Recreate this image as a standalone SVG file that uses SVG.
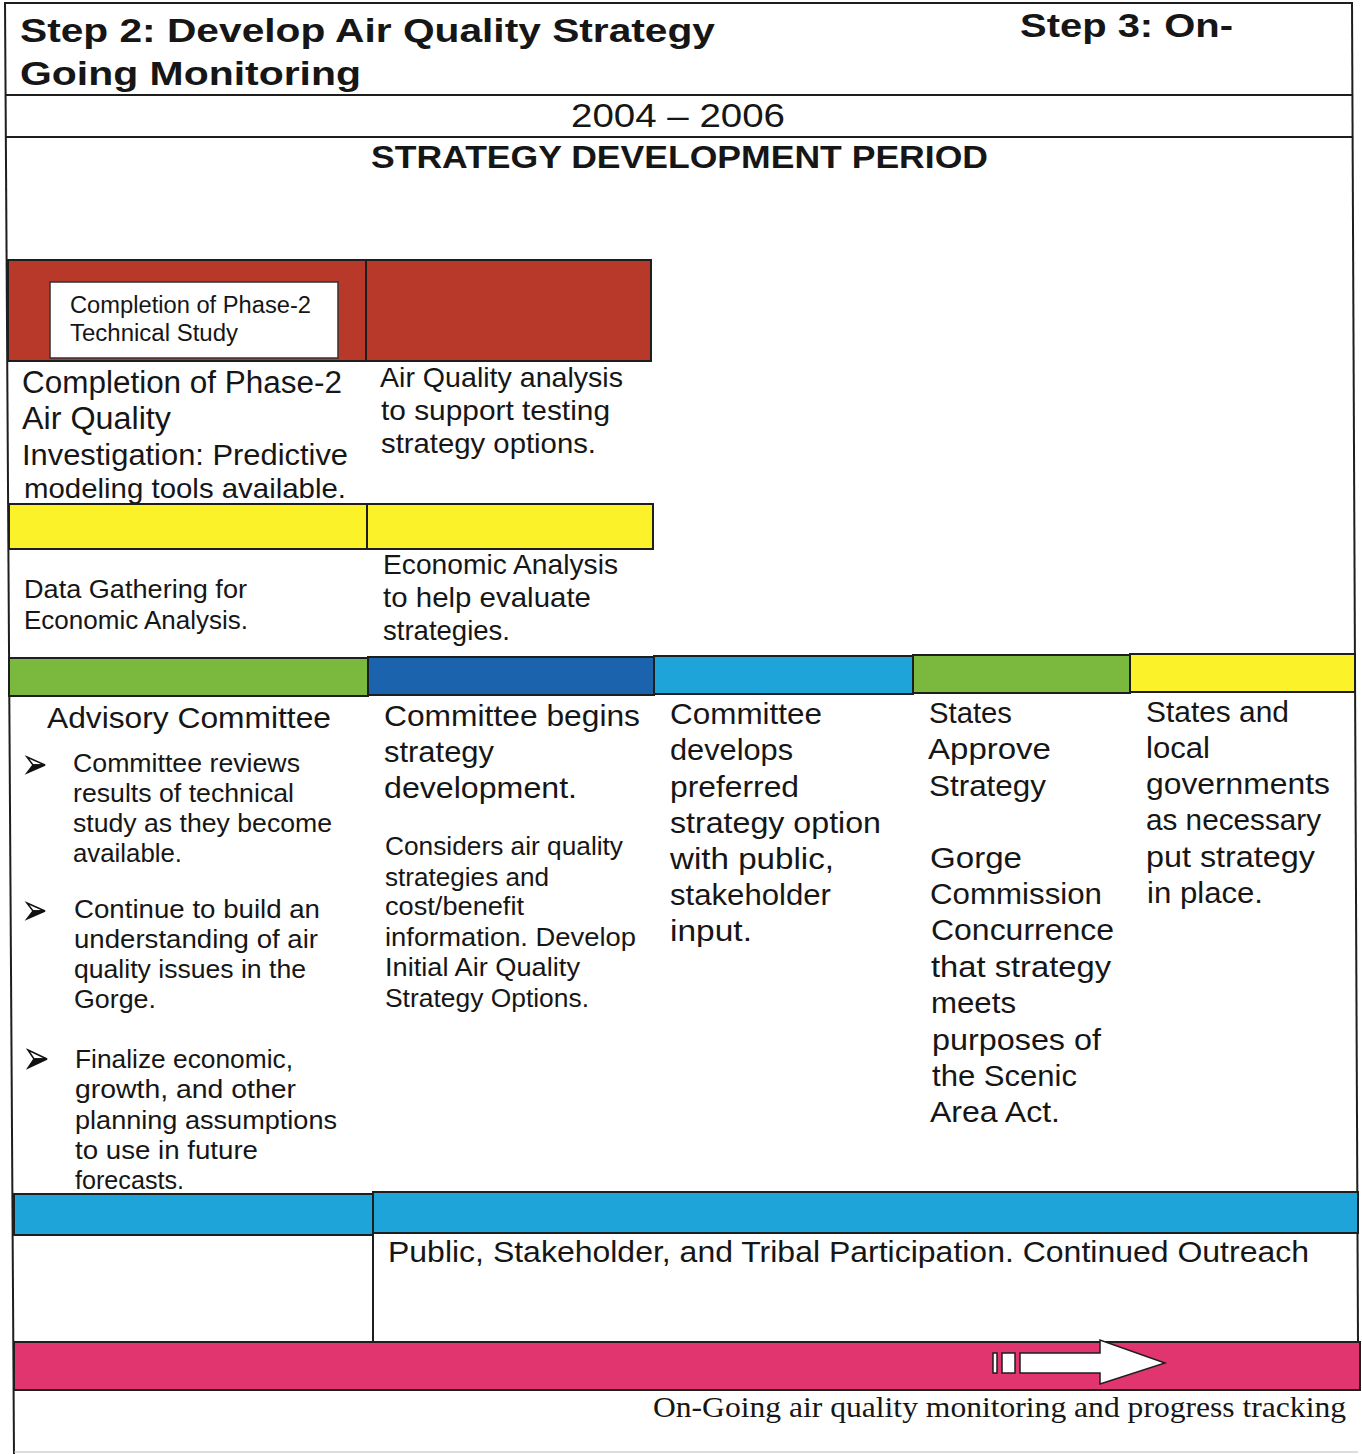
<svg xmlns="http://www.w3.org/2000/svg" width="1362" height="1454" viewBox="0 0 1362 1454">
<style>
.t{font-family:"Liberation Sans",Arial,sans-serif;fill:#161616}
.b{font-weight:bold}
.s{font-family:"Liberation Serif","Times New Roman",serif;fill:#161616}
.ln{stroke:#1e1e1e;stroke-width:2;fill:none}
.bar{stroke:#1e1e1e;stroke-width:2}
.red{fill:#b8392a}
.yel{fill:#fbf22a}
.grn{fill:#7bb93e}
.dblu{fill:#1b63ad}
.lblu{fill:#1ea4d9}
.pnk{fill:#e0356f}
</style>
<rect width="1362" height="1454" fill="#ffffff"/>

<g id="frame">
<line class="ln" x1="5" y1="3" x2="1352" y2="3"/>
<line class="ln" x1="5" y1="95" x2="1352" y2="95"/>
<line class="ln" x1="5" y1="137" x2="1352" y2="137"/>
<line class="ln" x1="5" y1="2" x2="14" y2="1454"/>
<line class="ln" x1="1352" y1="2" x2="1358" y2="1343"/>
<line x1="14" y1="1452" x2="1358" y2="1452" stroke="#bbbbbb" stroke-width="1"/>
</g>

<g id="header">
<text class="t b" x="20" y="42" font-size="33" textLength="695" lengthAdjust="spacingAndGlyphs">Step 2: Develop Air Quality Strategy</text>
<text class="t b" x="1020" y="37" font-size="33" textLength="213" lengthAdjust="spacingAndGlyphs">Step 3: On-</text>
<text class="t b" x="20" y="85" font-size="33" textLength="341" lengthAdjust="spacingAndGlyphs">Going Monitoring</text>
<text class="t" x="571" y="127" font-size="34" textLength="214" lengthAdjust="spacingAndGlyphs">2004 – 2006</text>
<text class="t b" x="371" y="168" font-size="32" textLength="617" lengthAdjust="spacingAndGlyphs">STRATEGY DEVELOPMENT PERIOD</text>
</g>

<g id="technical-study">
<rect class="bar red" x="8" y="260" width="643" height="101"/>
<line class="ln" x1="366" y1="260" x2="366" y2="361"/>
<rect x="50" y="282" width="288" height="76" fill="#ffffff" stroke="#333" stroke-width="1.5"/>
<text class="t" x="70" y="313" font-size="23" textLength="241" lengthAdjust="spacingAndGlyphs">Completion of Phase-2</text>
<text class="t" x="70" y="341" font-size="23" textLength="168" lengthAdjust="spacingAndGlyphs">Technical Study</text>
</g>

<g id="phase2-investigation">
<text class="t" x="22" y="393" font-size="31" textLength="320" lengthAdjust="spacingAndGlyphs">Completion of Phase-2</text>
<text class="t" x="22" y="429" font-size="31" textLength="149" lengthAdjust="spacingAndGlyphs">Air Quality</text>
<text class="t" x="22" y="465" font-size="29" textLength="326" lengthAdjust="spacingAndGlyphs">Investigation: Predictive</text>
<text class="t" x="24" y="498" font-size="28" textLength="322" lengthAdjust="spacingAndGlyphs">modeling tools available.</text>
</g>

<g id="aq-analysis">
<text class="t" x="380" y="387" font-size="28" textLength="243" lengthAdjust="spacingAndGlyphs">Air Quality analysis</text>
<text class="t" x="381" y="420" font-size="28" textLength="229" lengthAdjust="spacingAndGlyphs">to support testing</text>
<text class="t" x="381" y="453" font-size="28" textLength="215" lengthAdjust="spacingAndGlyphs">strategy options.</text>
</g>

<g id="economic-bar">
<rect class="bar yel" x="9" y="504" width="644" height="45"/>
<line class="ln" x1="367" y1="504" x2="367" y2="549"/>
</g>

<g id="data-gathering">
<text class="t" x="24" y="598" font-size="25" textLength="223" lengthAdjust="spacingAndGlyphs">Data Gathering for</text>
<text class="t" x="24" y="629" font-size="25" textLength="224" lengthAdjust="spacingAndGlyphs">Economic Analysis.</text>
</g>

<g id="economic-analysis">
<text class="t" x="383" y="574" font-size="28" textLength="235" lengthAdjust="spacingAndGlyphs">Economic Analysis</text>
<text class="t" x="383" y="607" font-size="28" textLength="208" lengthAdjust="spacingAndGlyphs">to help evaluate</text>
<text class="t" x="383" y="640" font-size="28" textLength="127" lengthAdjust="spacingAndGlyphs">strategies.</text>
</g>

<g id="committee-bar">
<rect class="bar grn" x="9" y="658" width="359" height="38"/>
<rect class="bar dblu" x="368" y="657" width="286" height="38"/>
<rect class="bar lblu" x="654" y="656" width="259" height="38"/>
<rect class="bar grn" x="913" y="655" width="217" height="38"/>
<rect class="bar yel" x="1130" y="654" width="225" height="38"/>
</g>

<g id="advisory-committee">
<text class="t" x="47" y="728" font-size="29" textLength="284" lengthAdjust="spacingAndGlyphs">Advisory Committee</text>
<path d="M27,757 L45,765 L33,765 Z" fill="#fff" stroke="#111" stroke-width="1.5"/>
<path d="M33,765 L45,765 L27,773 Z" fill="#111" stroke="#111" stroke-width="1.5"/>
<text class="t" x="73" y="772" font-size="25" textLength="227" lengthAdjust="spacingAndGlyphs">Committee reviews</text>
<text class="t" x="73" y="802" font-size="25" textLength="221" lengthAdjust="spacingAndGlyphs">results of technical</text>
<text class="t" x="73" y="832" font-size="25" textLength="259" lengthAdjust="spacingAndGlyphs">study as they become</text>
<text class="t" x="73" y="862" font-size="25" textLength="109" lengthAdjust="spacingAndGlyphs">available.</text>
<path d="M27,903 L45,911 L33,911 Z" fill="#fff" stroke="#111" stroke-width="1.5"/>
<path d="M33,911 L45,911 L27,919 Z" fill="#111" stroke="#111" stroke-width="1.5"/>
<text class="t" x="74" y="918" font-size="25" textLength="246" lengthAdjust="spacingAndGlyphs">Continue to build an</text>
<text class="t" x="74" y="948" font-size="25" textLength="244" lengthAdjust="spacingAndGlyphs">understanding of air</text>
<text class="t" x="74" y="978" font-size="25" textLength="232" lengthAdjust="spacingAndGlyphs">quality issues in the</text>
<text class="t" x="74" y="1008" font-size="25" textLength="82" lengthAdjust="spacingAndGlyphs">Gorge.</text>
<path d="M28,1050 L47,1059 L34,1059 Z" fill="#fff" stroke="#111" stroke-width="1.5"/>
<path d="M34,1059 L47,1059 L28,1068 Z" fill="#111" stroke="#111" stroke-width="1.5"/>
<text class="t" x="75" y="1068" font-size="25" textLength="218" lengthAdjust="spacingAndGlyphs">Finalize economic,</text>
<text class="t" x="75" y="1098" font-size="25" textLength="221" lengthAdjust="spacingAndGlyphs">growth, and other</text>
<text class="t" x="75" y="1129" font-size="25" textLength="262" lengthAdjust="spacingAndGlyphs">planning assumptions</text>
<text class="t" x="75" y="1159" font-size="25" textLength="183" lengthAdjust="spacingAndGlyphs">to use in future</text>
<text class="t" x="75" y="1189" font-size="25" textLength="109" lengthAdjust="spacingAndGlyphs">forecasts.</text>
</g>

<g id="strategy-development">
<text class="t" x="384" y="726" font-size="30" textLength="256" lengthAdjust="spacingAndGlyphs">Committee begins</text>
<text class="t" x="384" y="762" font-size="30" textLength="110" lengthAdjust="spacingAndGlyphs">strategy</text>
<text class="t" x="384" y="798" font-size="30" textLength="193" lengthAdjust="spacingAndGlyphs">development.</text>
<text class="t" x="385" y="855" font-size="25" textLength="238" lengthAdjust="spacingAndGlyphs">Considers air quality</text>
<text class="t" x="385" y="886" font-size="25" textLength="164" lengthAdjust="spacingAndGlyphs">strategies and</text>
<text class="t" x="385" y="915" font-size="25" textLength="139" lengthAdjust="spacingAndGlyphs">cost/benefit</text>
<text class="t" x="385" y="946" font-size="25" textLength="251" lengthAdjust="spacingAndGlyphs">information. Develop</text>
<text class="t" x="385" y="976" font-size="25" textLength="195" lengthAdjust="spacingAndGlyphs">Initial Air Quality</text>
<text class="t" x="385" y="1007" font-size="25" textLength="204" lengthAdjust="spacingAndGlyphs">Strategy Options.</text>
</g>

<g id="preferred-option">
<text class="t" x="670" y="724" font-size="30" textLength="152" lengthAdjust="spacingAndGlyphs">Committee</text>
<text class="t" x="670" y="760" font-size="30" textLength="123" lengthAdjust="spacingAndGlyphs">develops</text>
<text class="t" x="670" y="797" font-size="30" textLength="129" lengthAdjust="spacingAndGlyphs">preferred</text>
<text class="t" x="670" y="833" font-size="30" textLength="211" lengthAdjust="spacingAndGlyphs">strategy option</text>
<text class="t" x="670" y="869" font-size="30" textLength="164" lengthAdjust="spacingAndGlyphs">with public,</text>
<text class="t" x="670" y="905" font-size="30" textLength="161" lengthAdjust="spacingAndGlyphs">stakeholder</text>
<text class="t" x="670" y="941" font-size="30" textLength="82" lengthAdjust="spacingAndGlyphs">input.</text>
</g>

<g id="states-approve">
<text class="t" x="929" y="723" font-size="30" textLength="83" lengthAdjust="spacingAndGlyphs">States</text>
<text class="t" x="928" y="759" font-size="30" textLength="123" lengthAdjust="spacingAndGlyphs">Approve</text>
<text class="t" x="929" y="796" font-size="30" textLength="117" lengthAdjust="spacingAndGlyphs">Strategy</text>
<text class="t" x="930" y="868" font-size="30" textLength="92" lengthAdjust="spacingAndGlyphs">Gorge</text>
<text class="t" x="930" y="904" font-size="30" textLength="172" lengthAdjust="spacingAndGlyphs">Commission</text>
<text class="t" x="931" y="940" font-size="30" textLength="183" lengthAdjust="spacingAndGlyphs">Concurrence</text>
<text class="t" x="931" y="977" font-size="30" textLength="180" lengthAdjust="spacingAndGlyphs">that strategy</text>
<text class="t" x="931" y="1013" font-size="30" textLength="85" lengthAdjust="spacingAndGlyphs">meets</text>
<text class="t" x="932" y="1050" font-size="30" textLength="169" lengthAdjust="spacingAndGlyphs">purposes of</text>
<text class="t" x="932" y="1086" font-size="30" textLength="145" lengthAdjust="spacingAndGlyphs">the Scenic</text>
<text class="t" x="930" y="1122" font-size="30" textLength="130" lengthAdjust="spacingAndGlyphs">Area Act.</text>
</g>

<g id="put-in-place">
<text class="t" x="1146" y="722" font-size="30" textLength="143" lengthAdjust="spacingAndGlyphs">States and</text>
<text class="t" x="1146" y="758" font-size="30" textLength="64" lengthAdjust="spacingAndGlyphs">local</text>
<text class="t" x="1146" y="794" font-size="30" textLength="184" lengthAdjust="spacingAndGlyphs">governments</text>
<text class="t" x="1146" y="830" font-size="30" textLength="175" lengthAdjust="spacingAndGlyphs">as necessary</text>
<text class="t" x="1146" y="867" font-size="30" textLength="169" lengthAdjust="spacingAndGlyphs">put strategy</text>
<text class="t" x="1147" y="903" font-size="30" textLength="116" lengthAdjust="spacingAndGlyphs">in place.</text>
</g>

<g id="participation">
<rect class="bar lblu" x="14" y="1194" width="359" height="41"/>
<rect class="bar lblu" x="373" y="1192" width="985" height="41"/>
<line class="ln" x1="373" y1="1234" x2="373" y2="1343"/>
<text class="t" x="388" y="1262" font-size="29" textLength="921" lengthAdjust="spacingAndGlyphs">Public, Stakeholder, and Tribal Participation. Continued Outreach</text>
</g>

<g id="monitoring">
<rect class="bar pnk" x="14" y="1342" width="1346" height="48"/>
<text class="s" x="653" y="1417" font-size="30" textLength="693" lengthAdjust="spacingAndGlyphs">On-Going air quality monitoring and progress tracking</text>
</g>

<g id="connectors">
<rect x="993" y="1353" width="4" height="20" fill="#fff" stroke="#1e1e1e" stroke-width="1.5"/>
<rect x="1002" y="1353" width="13" height="20" fill="#fff" stroke="#1e1e1e" stroke-width="1.5"/>
<path d="M1020,1353 L1100,1353 L1100,1340 L1165,1363 L1100,1384 L1100,1373 L1020,1373 Z" fill="#fff" stroke="#1e1e1e" stroke-width="1.5"/>
</g>
</svg>
